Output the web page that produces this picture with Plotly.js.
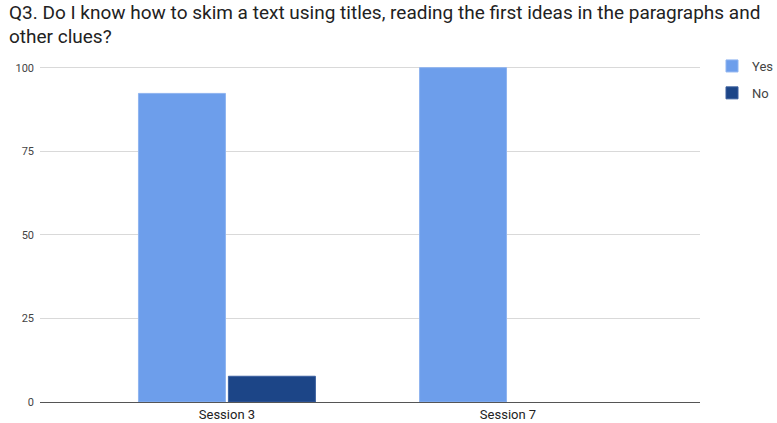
<!DOCTYPE html>
<html>
<head>
<meta charset="utf-8">
<script src="https://cdn.plot.ly/plotly-3.0.1.min.js"></script>
<style>html,body{margin:0;padding:0;background:#fff;}#chart{width:777px;height:423px;}</style>
</head>
<body>
<div id="chart"></div>
<script>
const categories = ["Session 3", "Session 7"];
const yesValues = [92.3, 100];
const noValues = [7.7, 0];
const seriesNames = ["Yes", "No"];
const yTicks = [0, 25, 50, 75, 100];
const titleLines = [
  "Q3. Do I know how to skim a text using titles, reading the first ideas in the paragraphs and",
  "other clues?"
];

const W = 777, H = 423;
const M = {l: 40, r: 77, t: 66, b: 21};
const plotH = H - M.t - M.b;
const plotW = W - M.l - M.r;
const px2x = (px) => (px - M.l) / plotW;
const px2y = (py) => (H - M.b - py) / plotH;

const data = [
  {type: "bar", name: seriesNames[0], x: categories, y: yesValues, legendgroup: "a",
   marker: {color: "#6d9eeb", line: {color: "#8fb4f0", width: 1}}},
  {type: "bar", name: seriesNames[1], x: categories, y: noValues, legendgroup: "b",
   marker: {color: "#1c4587", line: {color: "#3a5f9e", width: noValues.map(v => v > 0 ? 1 : 0)}}}
];

const titleFont = {size: 19, color: "#222", family: "Roboto, Arial, sans-serif"};
const annotations = titleLines.map((t, i) => ({
  text: t, showarrow: false, xref: "paper", yref: "paper",
  x: px2x(7), xanchor: "left", y: px2y(13 + 23 * i), yanchor: "middle",
  font: titleFont, align: "left"
}));

const layout = {
  width: W, height: H,
  margin: M,
  paper_bgcolor: "#fff", plot_bgcolor: "#fff",
  font: {family: "Roboto, Arial, sans-serif", color: "#222"},
  annotations: annotations,
  barmode: "group",
  bargap: 0.36,
  bargroupgap: 0.033,
  xaxis: {
    type: "category", automargin: false,
    range: [-0.665, 1.683],
    showgrid: false, showline: false, zeroline: false,
    ticks: "", tickfont: {size: 13, color: "#222"},
    ticklabelstandoff: 3
  },
  yaxis: {
    range: [0, 100.5], automargin: false,
    tickvals: yTicks, ticktext: yTicks.map(String),
    showgrid: true, gridcolor: "#d9d9d9", gridwidth: 1,
    zeroline: true, zerolinecolor: "#555", zerolinewidth: 1,
    ticks: "", ticklen: 0, tickfont: {size: 11, color: "#444"},
    ticklabelstandoff: 5
  },
  legend: {
    xref: "container", yref: "container",
    x: 712 / W, xanchor: "left", y: 1 - 51 / H, yanchor: "top",
    font: {size: 13, color: "#444"},
    traceorder: "grouped", tracegroupgap: 7
  },
  showlegend: true
};

Plotly.newPlot("chart", data, layout, {displayModeBar: false, staticPlot: true});
</script>
</body>
</html>
